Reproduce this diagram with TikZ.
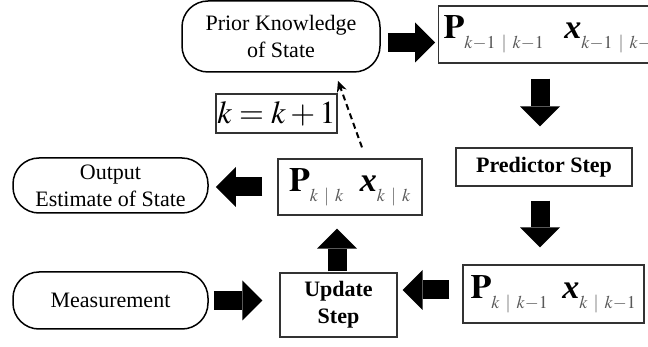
\documentclass[tikz,border=0pt]{standalone}
\usepackage{mathptmx}
\usepackage{amsmath}
\usepackage[no-math]{fontspec}
\setmainfont{Liberation Serif}
\usepackage{xcolor}
\usetikzlibrary{arrows.meta, calc, positioning}
\DeclareMathSizes{34}{34}{18}{12}
\DeclareMathSizes{32}{32}{16}{12}
\newcommand{\lowsub}[1]{_{\raisebox{-5pt}{\color{black!65}$\scriptstyle#1$}}}
\newcommand{\bx}{\mbox{\bfseries\itshape x}}
\tikzset{
    state/.style={draw, line width=1.5pt, rounded corners=26pt, align=center, inner sep=0pt, font=\fontsize{22}{27}\selectfont},
    stepbox/.style={draw=black!80, line width=1.2pt, align=center, inner sep=0pt, font=\bfseries\fontsize{22}{27}\selectfont},
    estbox/.style={draw=black!80, line width=1.2pt, inner sep=5pt, font=\fontsize{34}{36}\selectfont},
    flow/.style={line width=19pt, -{Triangle[width=40pt, length=20pt, line width=0pt]}},
    loopback/.style={line width=2pt, dash pattern=on 6pt off 4pt, -{Stealth[length=11pt, width=10pt]}}
}

\begin{document}
\begin{tikzpicture}[x=1pt, y=-1pt]
    \useasboundingbox (0,0) rectangle (648,347);
    \clip (0,0) rectangle (648,347);
    % boxes
    \node[state, minimum width=198pt, minimum height=71pt] (prior) at (281,36.5) {Prior Knowledge\\of State};
    \node[estbox, anchor=west, minimum height=57pt] (prev) at (438,34.5)
        {$\mathbf{P}\lowsub{k-1\;\,|\;\,k-1}\hspace{20pt}\bx\lowsub{k-1\;\,|\;\,k-1}$};
    \node[stepbox, minimum width=176pt, minimum height=38pt] (predict) at (544,167) {Predictor Step};
    \node[estbox, minimum width=181pt, minimum height=58pt] (prior1) at (553.5,294)
        {$\mathbf{P}\lowsub{k\;\,|\;\,k-1}\hspace{14pt}\bx\lowsub{k\;\,|\;\,k-1}$};
    \node[stepbox, minimum width=117pt, minimum height=64pt] (update) at (338.5,305) {Update\\Step};
    \node[state, minimum width=195pt, minimum height=57pt] (meas) at (110.5,300.5) {Measurement};
    \node[estbox, minimum width=144pt, minimum height=56pt] (post) at (350,187)
        {$\mathbf{P}\lowsub{k\;\,|\;\,k}\hspace{16pt}\bx\lowsub{k\;\,|\;\,k}$};
    \node[state, minimum width=195pt, minimum height=55pt] (out) at (110.5,185.5) {Output\\Estimate of State};
    \node[draw=black!80, line width=1.2pt, minimum width=121pt, minimum height=39pt, inner sep=0pt,
        font=\fontsize{32}{34}\selectfont] (incr) at (276.5,113.5) {$k=k+1$};
    % arrows
    \draw[flow, shorten <=7pt, shorten >=3pt] ([yshift=-6pt]prior.east) -- ([yshift=-6pt]prior.east -| prev.west);
    \draw[flow, shorten <=15pt, shorten >=21pt] ([xshift=-4pt]predict.north |- prev.south) -- ([xshift=-4pt]predict.north);
    \draw[flow, shorten <=14pt, shorten >=17pt] ([xshift=-4pt]predict.south) -- ([xshift=-4pt]predict.south |- prior1.north);
    \draw[flow, shorten <=13pt, shorten >=5pt] ([yshift=4pt]prior1.west) -- ([yshift=4pt]prior1.west -| update.east);
    \draw[flow, shorten <=5pt, shorten >=17pt] (meas.east) -- (meas.east -| update.west);
    \draw[flow, shorten <=1pt, shorten >=13pt] ([xshift=-1.5pt]update.north) -- ([xshift=-1.5pt]update.north |- post.south);
    \draw[flow, shorten <=15pt, shorten >=7pt] (post.west) -- (post.west -| out.east);
    \draw[loopback] ($(post.north)+(12,-11)$) -- ($(prior.south)+(57,8)$);
\end{tikzpicture}
\end{document}
